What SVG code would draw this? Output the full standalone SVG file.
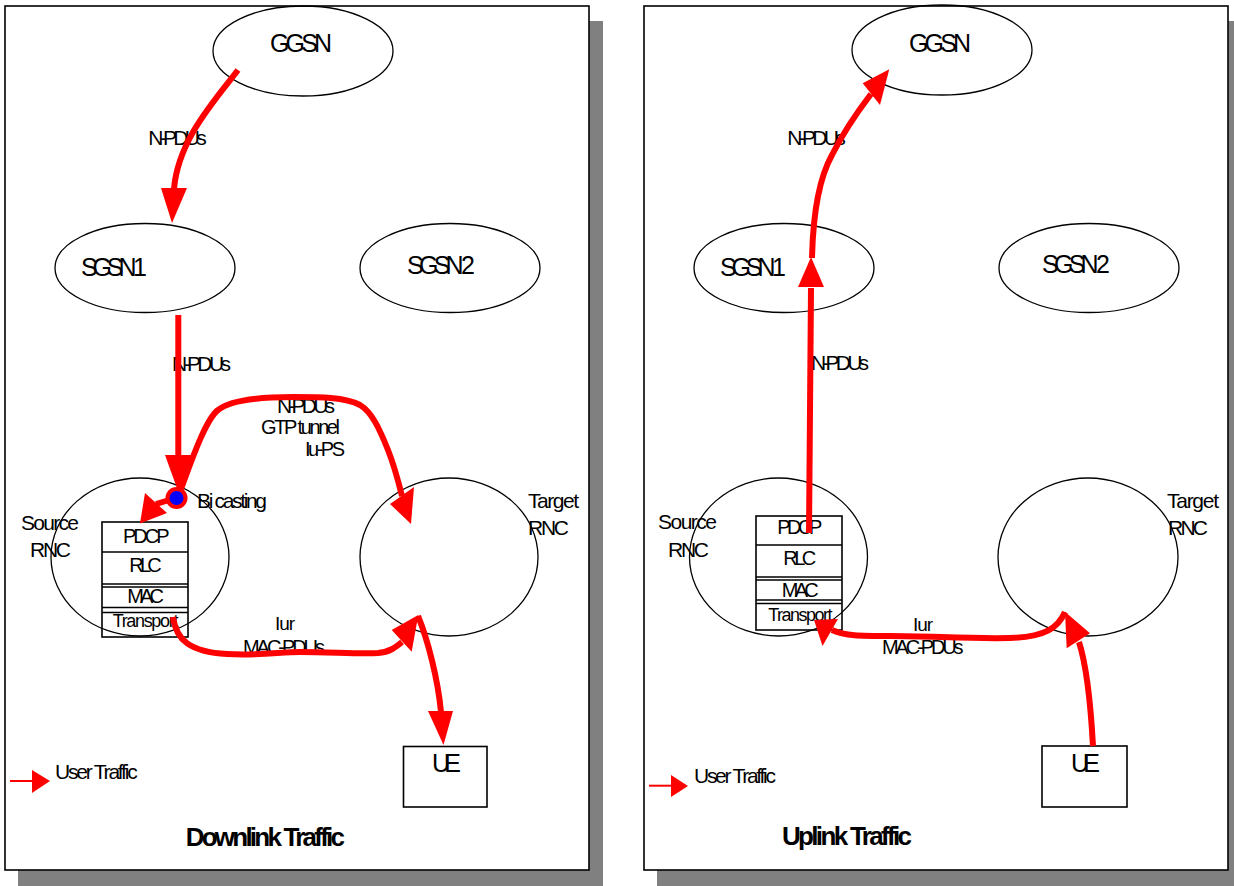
<svg xmlns="http://www.w3.org/2000/svg" width="1234" height="886" viewBox="0 0 1234 886">
<defs>
<style>
text{font-family:"Liberation Sans",Arial,sans-serif;fill:#000}
.n{fill:none;stroke:#000;stroke-width:1.3}
.box{fill:none;stroke:#000;stroke-width:1.6}
.frame{fill:#fff;stroke:#000;stroke-width:1.6}
.shadow{fill:#808080}
.c{fill:none;stroke:#ff0000;stroke-width:6}
.lg{fill:none;stroke:#ff0000;stroke-width:2}
.ah{fill:#ff0000}
.t25{font-size:25px}
.t21{font-size:21px}
.t20{font-size:20px}
.t19{font-size:19px}
.t18{font-size:18px}
.title{font-size:26px;font-weight:bold}
</style>
</defs>

<!-- panels -->
<g id="panels">
<rect class="shadow" x="18" y="21" width="585" height="865"/>
<rect class="frame" x="5" y="6" width="584" height="864"/>
<rect class="shadow" x="657" y="21" width="585" height="865"/>
<rect class="frame" x="644" y="6" width="584" height="864"/>
</g>

<!-- ===== Left panel: Downlink ===== -->
<g id="L-GGSN"><ellipse class="n" cx="303" cy="51" rx="90" ry="45"/><text class="t25" x="270" y="52" textLength="62">GGSN</text></g>
<g id="L-SGSN1"><ellipse class="n" cx="145" cy="268" rx="90" ry="44.5"/><text class="t25" x="81" y="276" textLength="66">SGSN 1</text></g>
<g id="L-SGSN2"><ellipse class="n" cx="450" cy="268" rx="90" ry="44.5"/><text class="t25" x="407" y="274" textLength="68">SGSN 2</text></g>
<g id="L-SourceRNC">
<ellipse class="n" cx="140" cy="557" rx="89" ry="79"/>
<text class="t21" x="21" y="530" textLength="58">Source</text>
<text class="t21" x="30" y="557" textLength="41">RNC</text>
<rect class="box" x="102" y="522" width="86" height="115"/>
<path class="box" d="M102,552H188M102,584H188M102,587H188M102,607.5H188M102,612.5H188"/>
<text class="t20" x="123" y="542.7" textLength="46.5">PDCP</text>
<text class="t20" x="129.3" y="571.7" textLength="32.3">RLC</text>
<text class="t20" x="127.3" y="603.3" textLength="36.7">MAC</text>
<text class="t18" x="112.7" y="626.7" textLength="65.7">Transport</text>
</g>
<g id="L-TargetRNC">
<ellipse class="n" cx="449" cy="557" rx="89" ry="79"/>
<text class="t21" x="528" y="508" textLength="51">Target</text>
<text class="t21" x="528" y="535" textLength="41">RNC</text>
</g>
<g id="L-UE"><rect class="box" x="403.5" y="746.5" width="83.5" height="60.5"/><text class="t25" x="432" y="772" textLength="29">UE</text></g>
<g id="L-legend">
<path class="lg" d="M10,781H33"/><polygon class="ah" points="32,770 50,781 32,793"/>
<text class="t21" x="55" y="779.3" textLength="82.7">User Traffic</text>
</g>
<g id="L-title"><text class="title" x="185.7" y="846" textLength="159.3">Downlink Traffic</text></g>

<!-- ===== Right panel: Uplink ===== -->
<g id="R-GGSN"><ellipse class="n" cx="942" cy="50" rx="90" ry="45"/><text class="t25" x="909" y="52" textLength="62">GGSN</text></g>
<g id="R-SGSN1"><ellipse class="n" cx="784" cy="268" rx="90" ry="44.5"/><text class="t25" x="720" y="276" textLength="66">SGSN 1</text></g>
<g id="R-SGSN2"><ellipse class="n" cx="1089" cy="268" rx="90" ry="44.5"/><text class="t25" x="1042" y="273" textLength="68">SGSN 2</text></g>
<g id="R-SourceRNC">
<ellipse class="n" cx="778.5" cy="557" rx="89" ry="79"/>
<text class="t21" x="658" y="529" textLength="59">Source</text>
<text class="t21" x="668" y="557" textLength="41">RNC</text>
<rect class="box" x="756" y="516" width="86" height="114"/>
<path class="box" d="M756,545H842M756,577H842M756,580H842M756,600H842M756,603.5H842"/>
<text class="t20" x="777.3" y="534.3" textLength="45">PDCP</text>
<text class="t20" x="783.3" y="565" textLength="33">RLC</text>
<text class="t20" x="781.7" y="597" textLength="37">MAC</text>
<text class="t18" x="768.3" y="620.5" textLength="64.3">Transport</text>
</g>
<g id="R-TargetRNC">
<ellipse class="n" cx="1088" cy="557" rx="90" ry="79"/>
<text class="t21" x="1167" y="508" textLength="52">Target</text>
<text class="t21" x="1168" y="535" textLength="40">RNC</text>
</g>
<g id="R-UE"><rect class="box" x="1042" y="746" width="85" height="61"/><text class="t25" x="1071" y="772" textLength="29">UE</text></g>
<g id="R-legend">
<path class="lg" d="M649,785.7H671"/><polygon class="ah" points="671,775 688,786 671,797"/>
<text class="t21" x="694" y="782.7" textLength="82">User Traffic</text>
</g>
<g id="R-title"><text class="title" x="782" y="845" textLength="130">Uplink Traffic</text></g>

<!-- ===== Connectors ===== -->
<g id="connectors">
<!-- labels -->
<text class="t21" x="148.3" y="145" textLength="58.4">N-PDUs</text>
<text class="t21" x="172" y="371" textLength="59">N-PDUs</text>
<text class="t21" x="277" y="413" textLength="58">N-PDUs</text>
<text class="t20" x="261" y="434" textLength="79">GTP tunnel</text>
<text class="t20" x="305" y="456" textLength="40">Iu-PS</text>
<text class="t19" x="275" y="630" textLength="20">Iur</text>
<text class="t20" x="243" y="654" textLength="82">MAC-PDUs</text>

<text class="t21" x="787.3" y="145" textLength="58.4">N-PDUs</text>
<text class="t21" x="811" y="370" textLength="58">N-PDUs</text>
<text class="t19" x="913" y="630.7" textLength="20">Iur</text>
<text class="t20" x="882" y="654" textLength="81.6">MAC-PDUs</text>

<!-- left: downlink -->
<path class="c" d="M238,70 C215,100 178,140 174,189"/>
<polygon class="ah" points="161,188 187,188 172,223"/>
<path class="c" d="M178.3,315 L178.3,456"/>
<polygon class="ah" points="165,455 191,455 178,491"/>
<path class="c" d="M176,498 L156,504"/>
<polygon class="ah" points="145,493 167,513 140,523.5"/>
<path class="c" d="M181,489 C190,465 205,420 218,410 C230,400 260,397 293,397 C320,397 345,397 360,405 C372,412 380,430 388,450 C394,465 398,480 402,496"/>
<polygon class="ah" points="390,504 414,487 411,524"/>
<path class="c" d="M173,617 C176,640 190,652 227,654 C260,656 280,652 300,652 C330,652 360,654 378,653 C390,652 396,647 402,642"/>
<polygon class="ah" points="391.7,630 411.7,651.7 418.3,615"/>
<path class="c" d="M418,616 C428,640 438,680 441,712"/>
<polygon class="ah" points="428,711 453,711 443.5,745"/>

<!-- right: uplink -->
<path class="c" d="M809,533 L811,288"/>
<polygon class="ah" points="798,287 824,287 811,257"/>
<path class="c" d="M812,258 C813,215 818,180 832,155 C842,135 855,115 871,94"/>
<polygon class="ah" points="862.7,83.3 880,105 889.3,69.3"/>
<path class="c" d="M1065,612 C1058,628 1045,637 1010,638 C970,639 930,636 890,636 C860,636 845,636 832,630"/>
<polygon class="ah" points="814,620 838,619 822.5,646"/>
<path class="c" d="M1093,746 C1091,710 1088,670 1079,642"/>
<polygon class="ah" points="1066.7,648.3 1090,633.3 1065,611.7"/>
</g>

<g id="L-Bicasting">
<circle cx="176.5" cy="498" r="11" fill="#ff0000"/>
<circle cx="176.5" cy="498" r="7" fill="#0000ff"/>
<text class="t21" x="197" y="507.5" textLength="70">Bi casting</text>
</g>
</svg>
